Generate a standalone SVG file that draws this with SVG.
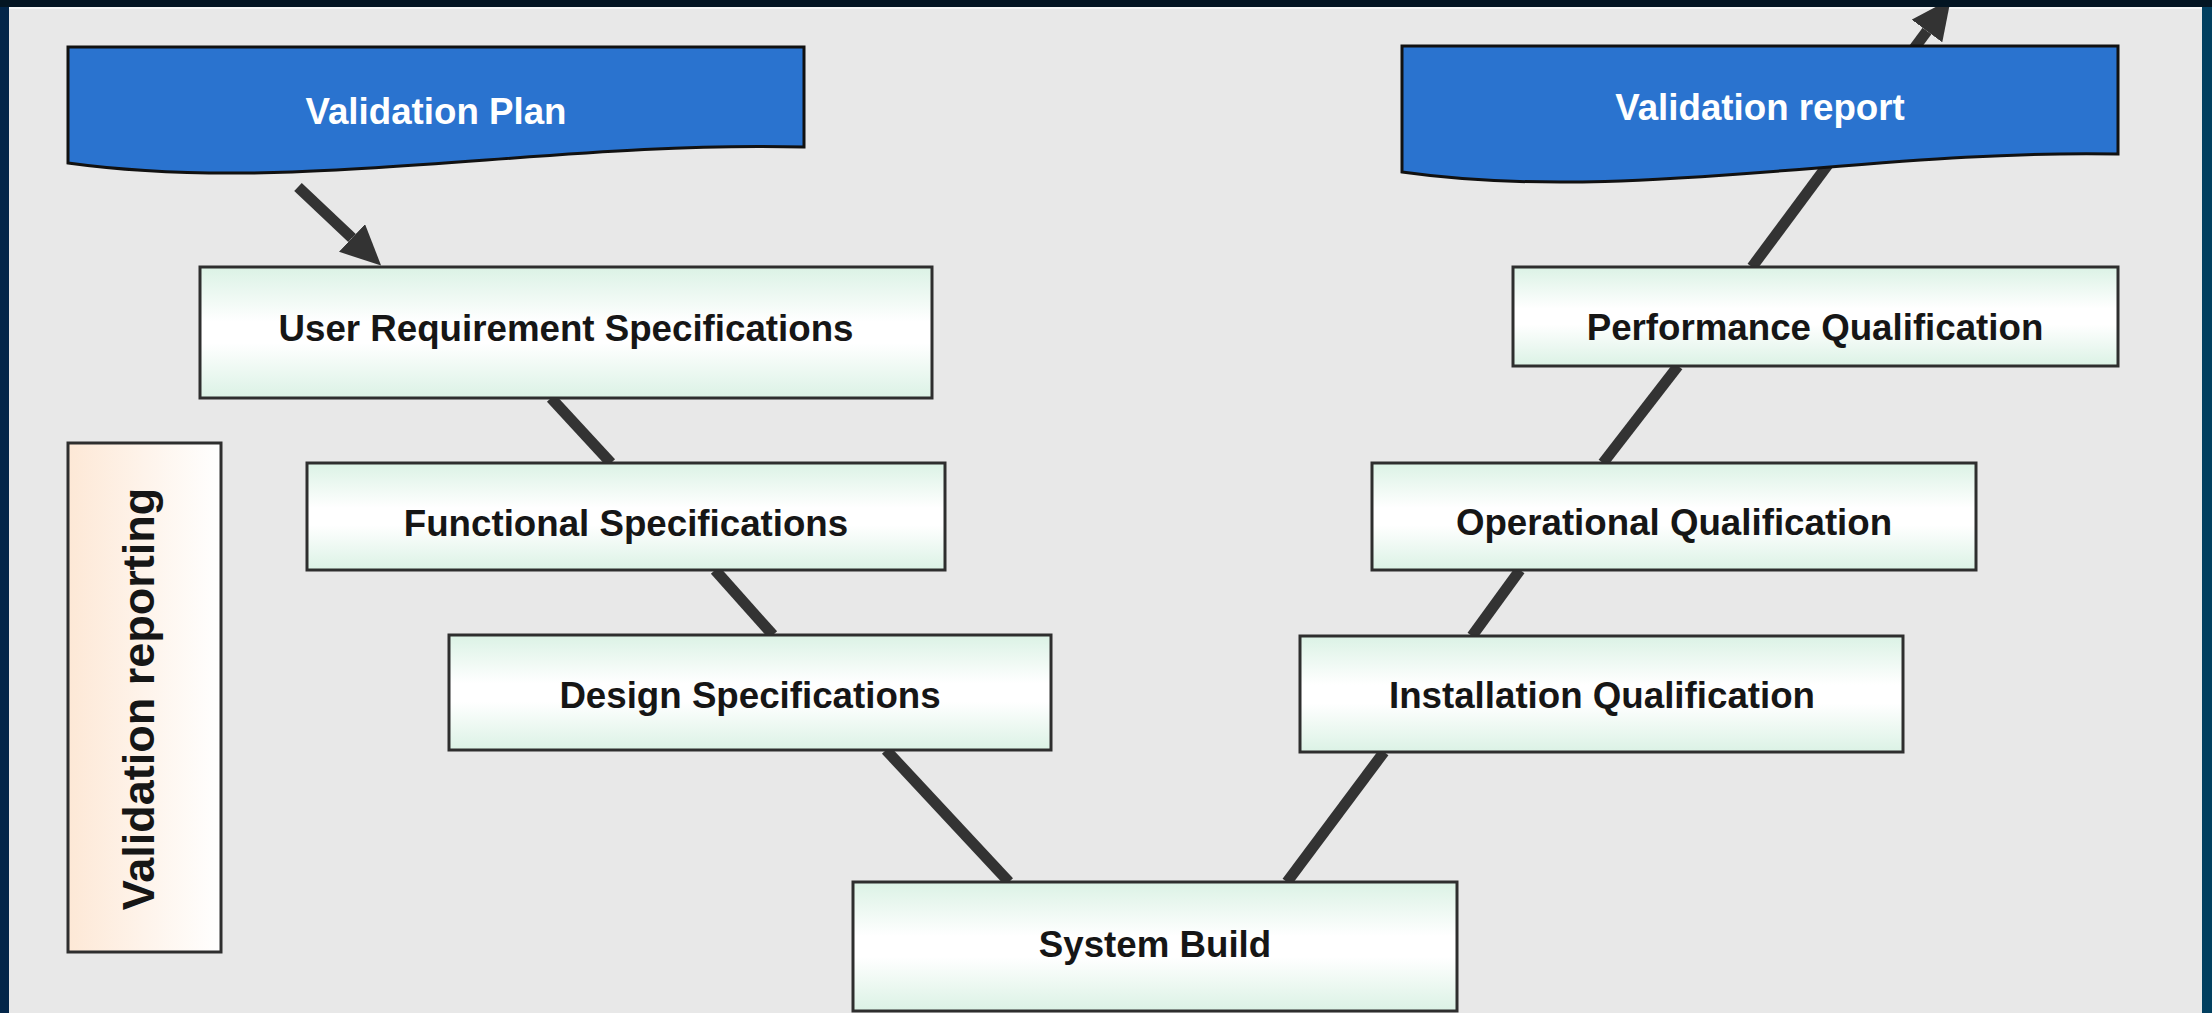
<svg xmlns="http://www.w3.org/2000/svg" width="2212" height="1013" viewBox="0 0 2212 1013">
<style>
.box{stroke:#2e2e2e;stroke-width:3;fill:url(#mint)}
.doc{fill:#2a73cf;stroke:#111;stroke-width:3;stroke-linejoin:miter}
.t{font-family:"Liberation Sans",Arial,sans-serif;font-weight:bold;font-size:36.7px;text-anchor:middle;fill:#161616}
.tw{font-family:"Liberation Sans",Arial,sans-serif;font-weight:bold;font-size:36.7px;text-anchor:middle;fill:#ffffff}
.con{stroke:#333333;stroke-width:11;fill:none;stroke-linecap:butt}
</style>
<defs>
<linearGradient id="bg" x1="0" y1="0" x2="1" y2="0">
<stop offset="0" stop-color="#03264a"/>
<stop offset="0.5" stop-color="#031827"/>
<stop offset="1" stop-color="#024060"/>
</linearGradient>
<linearGradient id="mint" x1="0" y1="0" x2="0" y2="1">
<stop offset="0" stop-color="#dbf2e5"/>
<stop offset="0.42" stop-color="#ffffff"/>
<stop offset="0.58" stop-color="#ffffff"/>
<stop offset="1" stop-color="#dbf2e5"/>
</linearGradient>
<linearGradient id="peach" x1="0" y1="0" x2="1" y2="0">
<stop offset="0" stop-color="#fde8d6"/>
<stop offset="1" stop-color="#ffffff"/>
</linearGradient>
<clipPath id="panelclip"><rect x="9" y="7" width="2193" height="1006"/></clipPath>
<marker id="ah" markerUnits="userSpaceOnUse" viewBox="0 0 40 38" markerWidth="40" markerHeight="38" refX="0" refY="19" orient="auto">
<path d="M0,0 L40,19 L0,38 Z" fill="#333333"/>
</marker>
</defs>
<rect x="0" y="0" width="2212" height="1013" fill="url(#bg)"/>
<rect x="0" y="0" width="2212" height="7" fill="#031522"/>
<rect x="9" y="7" width="2193" height="1006" fill="#e8e8e8"/>
<line x1="9" y1="8" x2="2202" y2="8" stroke="#f6f6f6" stroke-width="2"/>
<g id="connectors" clip-path="url(#panelclip)">
<line class="con" x1="298" y1="187" x2="352" y2="238" marker-end="url(#ah)"/>
<line class="con" x1="551" y1="398" x2="611" y2="463"/>
<line class="con" x1="715" y1="570" x2="773" y2="635"/>
<line class="con" x1="886" y1="750" x2="1009" y2="882"/>
<line class="con" x1="1287" y1="882" x2="1384" y2="752"/>
<line class="con" x1="1472" y1="636" x2="1520" y2="570"/>
<line class="con" x1="1603" y1="463" x2="1678" y2="366"/>
<line class="con" x1="1752" y1="267" x2="1927" y2="31" marker-end="url(#ah)"/>
</g>
<g id="validation-plan">
<path class="doc" d="M68,47 H804 V147 C550,140 300,195 68,163 Z"/>
<text class="tw" x="436" y="124">Validation Plan</text>
</g>
<g id="validation-report">
<path class="doc" d="M1402,46 H2118 V154 C1871,149 1628,204 1402,172 Z"/>
<text class="tw" x="1760" y="120">Validation report</text>
</g>
<g id="urs">
<rect class="box" x="200" y="267" width="732" height="131"/>
<text class="t" x="566" y="341">User Requirement Specifications</text>
</g>
<g id="fs">
<rect class="box" x="307" y="463" width="638" height="107"/>
<text class="t" x="626" y="536">Functional Specifications</text>
</g>
<g id="ds">
<rect class="box" x="449" y="635" width="602" height="115"/>
<text class="t" x="750" y="708">Design Specifications</text>
</g>
<g id="sb">
<rect class="box" x="853" y="882" width="604" height="129"/>
<text class="t" x="1155" y="957">System Build</text>
</g>
<g id="iq">
<rect class="box" x="1300" y="636" width="603" height="116"/>
<text class="t" x="1602" y="708">Installation Qualification</text>
</g>
<g id="oq">
<rect class="box" x="1372" y="463" width="604" height="107"/>
<text class="t" x="1674" y="535">Operational Qualification</text>
</g>
<g id="pq">
<rect class="box" x="1513" y="267" width="605" height="99"/>
<text class="t" x="1815" y="340">Performance Qualification</text>
</g>
<g id="validation-reporting">
<rect x="68" y="443" width="153" height="509" fill="url(#peach)" stroke="#2e2e2e" stroke-width="3"/>
<text class="t" style="font-size:45px" transform="translate(154,699) rotate(-90)" x="0" y="0">Validation reporting</text>
</g>
</svg>
